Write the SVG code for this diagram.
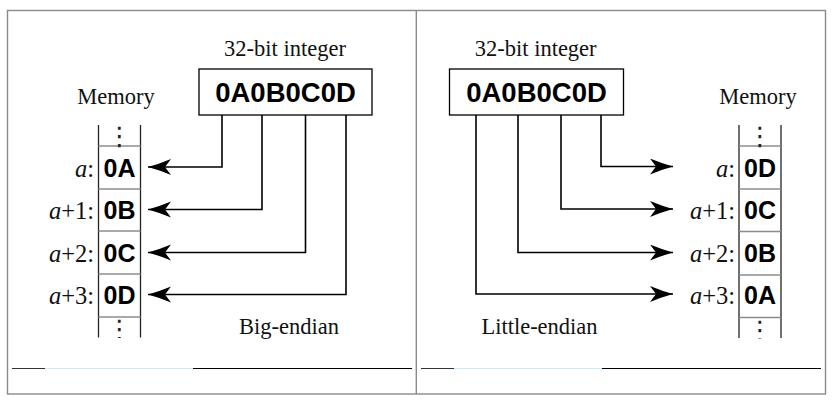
<svg xmlns="http://www.w3.org/2000/svg" width="834" height="403" viewBox="0 0 834 403">
  <style>
    .frame { fill: none; stroke: #8a8a8a; stroke-width: 1.4; }
    .box { fill: #ffffff; stroke: #000000; stroke-width: 1.3; }
    .col { stroke: #222222; stroke-width: 1.3; fill: none; }
    .div { stroke: #8c8c8c; stroke-width: 1.3; }
    .hex { font-family: "Liberation Sans", Arial, sans-serif; font-weight: bold; font-size: 27.5px; text-anchor: middle; fill: #000; }
    .cell { font-family: "Liberation Sans", Arial, sans-serif; font-weight: bold; font-size: 25px; text-anchor: middle; fill: #000; }
    .title { font-family: "Liberation Serif", "Times New Roman", serif; font-size: 22.5px; text-anchor: middle; fill: #111; }
    .lab { font-family: "Liberation Serif", "Times New Roman", serif; font-size: 24.5px; text-anchor: end; fill: #111; }
    .it { font-style: italic; }
    .dots { font-family: "DejaVu Sans", sans-serif; font-size: 26px; text-anchor: middle; fill: #222; }
    .conn { fill: none; stroke: #000; stroke-width: 1.6; }
  </style>
  <defs>
    <clipPath id="clipL"><rect x="98" y="125" width="43" height="213"/></clipPath>
    <clipPath id="clipR"><rect x="738" y="125" width="44" height="213.5"/></clipPath>
    <marker id="arr" markerUnits="userSpaceOnUse" markerWidth="26" markerHeight="18" refX="23" refY="8" orient="auto">
      <path d="M0,0 Q12,5 23,8 Q12,11 0,16 L6,8 Z" fill="#000"/>
    </marker>
  </defs>
  <rect width="834" height="403" fill="#ffffff"/>

  <g id="frame">
    <rect class="frame" x="7.5" y="10.5" width="818" height="383.5"/>
    <line class="frame" x1="416.3" y1="10.5" x2="416.3" y2="394"/>
  </g>

  <g id="artifacts">
    <line x1="12" y1="368.5" x2="45" y2="368.5" stroke="#333" stroke-width="1"/>
    <line x1="45" y1="368.5" x2="193" y2="368.5" stroke="#c9eef8" stroke-width="1"/>
    <line x1="193" y1="368.5" x2="412" y2="368.5" stroke="#000" stroke-width="1"/>
    <line x1="421" y1="368.5" x2="454" y2="368.5" stroke="#333" stroke-width="1"/>
    <line x1="454" y1="368.5" x2="602" y2="368.5" stroke="#c9eef8" stroke-width="1"/>
    <line x1="602" y1="368.5" x2="821" y2="368.5" stroke="#000" stroke-width="1"/>
  </g>

  <!-- Big-endian panel -->
  <g id="be-integer">
    <text class="title" x="285" y="56">32-bit integer</text>
    <rect class="box" x="199" y="69" width="173" height="46"/>
    <text class="hex" x="285.5" y="101.5">0A0B0C0D</text>
  </g>
  <g id="be-memory">
    <text class="title" x="116" y="104">Memory</text>
    <line class="col" x1="98.5" y1="125" x2="98.5" y2="337.5"/>
    <line class="col" x1="140.5" y1="125" x2="140.5" y2="337.5"/>
    <line class="div" x1="98.5" y1="146" x2="140.5" y2="146"/>
    <line class="div" x1="98.5" y1="189" x2="140.5" y2="189"/>
    <line class="div" x1="98.5" y1="231" x2="140.5" y2="231"/>
    <line class="div" x1="98.5" y1="274" x2="140.5" y2="274"/>
    <line class="div" x1="98.5" y1="317" x2="140.5" y2="317"/>
    <g clip-path="url(#clipL)">
      <text class="dots" x="119.5" y="145">⋮</text>
      <text class="dots" x="119.5" y="338">⋮</text>
    </g>
    <text class="cell" x="119.5" y="176.5">0A</text>
    <text class="cell" x="119.5" y="219">0B</text>
    <text class="cell" x="119.5" y="261.5">0C</text>
    <text class="cell" x="119.5" y="304">0D</text>
    <text class="lab" x="94" y="176.5"><tspan class="it">a</tspan>:</text>
    <text class="lab" x="94" y="219"><tspan class="it">a</tspan>+1:</text>
    <text class="lab" x="94" y="261.5"><tspan class="it">a</tspan>+2:</text>
    <text class="lab" x="94" y="304"><tspan class="it">a</tspan>+3:</text>
  </g>
  <g id="be-caption">
    <text class="title" x="289" y="334">Big-endian</text>
  </g>

  <!-- Little-endian panel -->
  <g id="le-integer">
    <text class="title" x="535.7" y="56">32-bit integer</text>
    <rect class="box" x="449.5" y="69" width="174" height="46"/>
    <text class="hex" x="536.5" y="101.5">0A0B0C0D</text>
  </g>
  <g id="le-memory">
    <text class="title" x="758" y="104">Memory</text>
    <line class="col" x1="739" y1="125" x2="739" y2="338"/>
    <line class="col" x1="781" y1="125" x2="781" y2="338"/>
    <line class="div" x1="739" y1="146" x2="781" y2="146"/>
    <line class="div" x1="739" y1="189" x2="781" y2="189"/>
    <line class="div" x1="739" y1="231.5" x2="781" y2="231.5"/>
    <line class="div" x1="739" y1="275" x2="781" y2="275"/>
    <line class="div" x1="739" y1="317.5" x2="781" y2="317.5"/>
    <g clip-path="url(#clipR)">
      <text class="dots" x="760" y="145">⋮</text>
      <text class="dots" x="760" y="338.5">⋮</text>
    </g>
    <text class="cell" x="760" y="176.5">0D</text>
    <text class="cell" x="760" y="219">0C</text>
    <text class="cell" x="760" y="261.5">0B</text>
    <text class="cell" x="760" y="304">0A</text>
    <text class="lab" x="735" y="176.5"><tspan class="it">a</tspan>:</text>
    <text class="lab" x="735" y="219"><tspan class="it">a</tspan>+1:</text>
    <text class="lab" x="735" y="261.5"><tspan class="it">a</tspan>+2:</text>
    <text class="lab" x="735" y="304"><tspan class="it">a</tspan>+3:</text>
  </g>
  <g id="le-caption">
    <text class="title" x="539.5" y="334">Little-endian</text>
  </g>

  <g id="connectors">
    <path class="conn" marker-end="url(#arr)" d="M222,115 V167 H148"/>
    <path class="conn" marker-end="url(#arr)" d="M262,115 V209.5 H148"/>
    <path class="conn" marker-end="url(#arr)" d="M305.5,115 V252.5 H148"/>
    <path class="conn" marker-end="url(#arr)" d="M346,115 V294.5 H148"/>
    <path class="conn" marker-end="url(#arr)" d="M601,115 V166.5 H673"/>
    <path class="conn" marker-end="url(#arr)" d="M561,115 V209 H673"/>
    <path class="conn" marker-end="url(#arr)" d="M518,115 V252.5 H673"/>
    <path class="conn" marker-end="url(#arr)" d="M476,115 V294 H673"/>
  </g>
</svg>
